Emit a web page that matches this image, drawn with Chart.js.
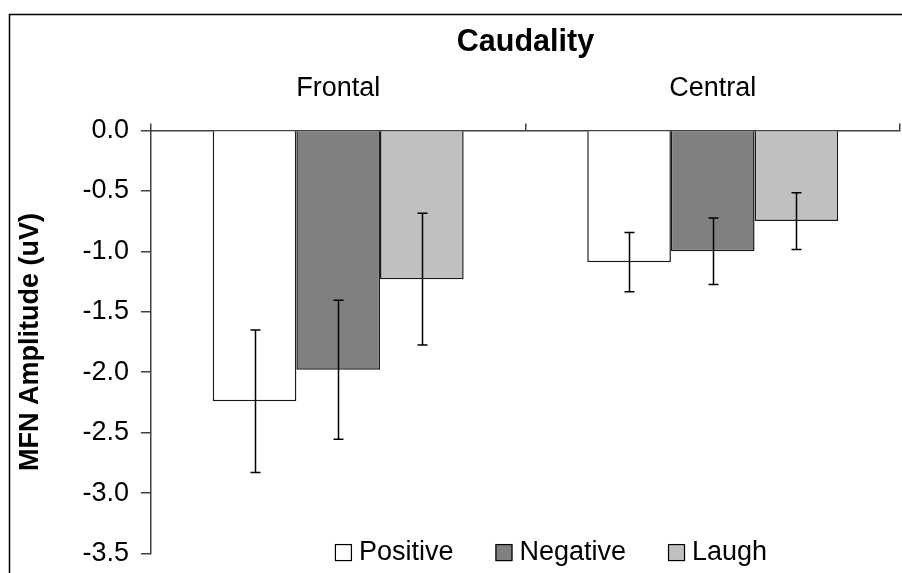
<!DOCTYPE html>
<html>
<head>
<meta charset="utf-8">
<script src="https://cdn.jsdelivr.net/npm/chart.js@4/dist/chart.umd.min.js"></script>
<style>
  html, body { margin: 0; padding: 0; background: #fff; }
  #wrap { position: relative; width: 902px; height: 573px; }
</style>
</head>
<body>
<div id="wrap"><canvas id="caudalityChart"></canvas></div>
<script>
const categories = ["Frontal", "Central"];
const seriesNames = ["Positive", "Negative", "Laugh"];

const positiveVals = [-2.24, -1.09];
const negativeVals = [-1.98, -1.00];
const laughVals = [-1.23, -0.75];

// +/- error (uV)
const positiveErr = [0.59, 0.245];
const negativeErr = [0.575, 0.275];
const laughErr = [0.545, 0.235];

const yMin = -3.5;
const yMax = 0;
const yStep = 0.5;

const fontFamily = "'Liberation Sans', Arial, sans-serif";

// outer frame like the excel chart border
const framePlugin = {
    id: "frame",
    beforeDraw(chart) {
        const ctx = chart.ctx;
        ctx.save();
        ctx.strokeStyle = "#000";
        ctx.lineWidth = 1.5;
        ctx.beginPath();
        ctx.moveTo(9.5, chart.height + 2);
        ctx.lineTo(9.5, 14.5);
        ctx.lineTo(chart.width + 2, 14.5);
        ctx.stroke();
        ctx.restore();
    },
};

const errorBarPlugin = {
    id: "errorBars",
    afterDatasetsDraw(chart) {
        const ctx = chart.ctx;
        const y = chart.scales.y;
        ctx.save();
        ctx.strokeStyle = "#000";
        ctx.lineWidth = 1.5;
        chart.data.datasets.forEach((ds, i) => {
            const meta = chart.getDatasetMeta(i);
            meta.data.forEach((bar, j) => {
                const v = ds.data[j];
                const e = ds.errors[j];
                const top = y.getPixelForValue(v + e);
                const bottom = y.getPixelForValue(v - e);
                const x = Math.round(bar.x) + 0.5;
                ctx.beginPath();
                ctx.moveTo(x, top);
                ctx.lineTo(x, bottom);
                ctx.moveTo(x - 5, top);
                ctx.lineTo(x + 5, top);
                ctx.moveTo(x - 5, bottom);
                ctx.lineTo(x + 5, bottom);
                ctx.stroke();
            });
        });
        ctx.restore();
    },
};

// legend sits inside the plot, near the bottom
const insideLegendPlugin = {
    id: "insideLegend",
    afterDraw(chart) {
        const ctx = chart.ctx;
        const area = chart.chartArea;
        ctx.save();
        ctx.font = "27px " + fontFamily;
        ctx.textBaseline = "middle";
        const box = 17;
        let x = area.left + 184;
        const yc = area.bottom - 1;
        chart.data.datasets.forEach((ds) => {
            ctx.fillStyle = ds.backgroundColor;
            ctx.fillRect(x, yc - box / 2, box, box);
            ctx.strokeStyle = "#000";
            ctx.lineWidth = 1.2;
            ctx.strokeRect(x + 0.5, yc - box / 2 + 0.5, box - 1, box - 1);
            ctx.fillStyle = "#000";
            ctx.fillText(ds.label, x + box + 7, yc);
            x += box + 7 + ctx.measureText(ds.label).width + 42;
        });
        ctx.restore();
    },
};

const data = {
    labels: categories,
    datasets: [
        {
            label: seriesNames[0],
            data: positiveVals,
            errors: positiveErr,
            backgroundColor: "#ffffff",
            borderColor: "#1a1a1a",
            borderWidth: 1.5,
        },
        {
            label: seriesNames[1],
            data: negativeVals,
            errors: negativeErr,
            backgroundColor: "#808080",
            borderColor: "#1a1a1a",
            borderWidth: 1.5,
        },
        {
            label: seriesNames[2],
            data: laughVals,
            errors: laughErr,
            backgroundColor: "#c0c0c0",
            borderColor: "#1a1a1a",
            borderWidth: 1.5,
        },
    ],
};

const config = {
    type: "bar",
    data: data,
    options: {
        responsive: true,
        maintainAspectRatio: false,
        animation: false,
        categoryPercentage: 0.67,
        barPercentage: 1.0,
        layout: {
            padding: { top: 32, left: 14, right: 2, bottom: 2 },
        },
        plugins: {
            legend: { display: false },
            tooltip: { enabled: false },
            title: { display: false },
        },
        scales: {
            x: {
                position: "top",
                grid: {
                    display: true,
                    drawOnChartArea: false,
                    offset: true,
                    color: "#404040",
                    tickLength: 7,
                    lineWidth: 1.5,
                },
                border: { color: "#404040", width: 1.5 },
                ticks: {
                    color: "#000",
                    font: { family: fontFamily, size: 27 },
                    padding: 19,
                },
                title: {
                    display: true,
                    text: "Caudality",
                    color: "#000",
                    font: { family: fontFamily, size: 30.5, weight: "bold", lineHeight: 0.69 },
                    padding: { top: 0, bottom: 0 },
                },
            },
            y: {
                min: yMin,
                max: yMax,
                grid: {
                    display: true,
                    drawOnChartArea: false,
                    color: "#404040",
                    tickLength: 10,
                    lineWidth: 1.5,
                },
                border: { color: "#404040", width: 1.5 },
                ticks: {
                    stepSize: yStep,
                    color: "#000",
                    font: { family: fontFamily, size: 27, lineHeight: 0.55 },
                    padding: 12,
                    callback: (v) => (Math.abs(v) < 1e-9 ? 0 : v).toFixed(1),
                },
                title: {
                    display: true,
                    text: "MFN Amplitude (uV)",
                    color: "#000",
                    font: { family: fontFamily, size: 27, weight: "bold" },
                    padding: { top: 0, bottom: 24 },
                },
            },
        },
    },
    plugins: [framePlugin, errorBarPlugin, insideLegendPlugin],
};

new Chart(document.getElementById("caudalityChart"), config);
</script>
</body>
</html>
